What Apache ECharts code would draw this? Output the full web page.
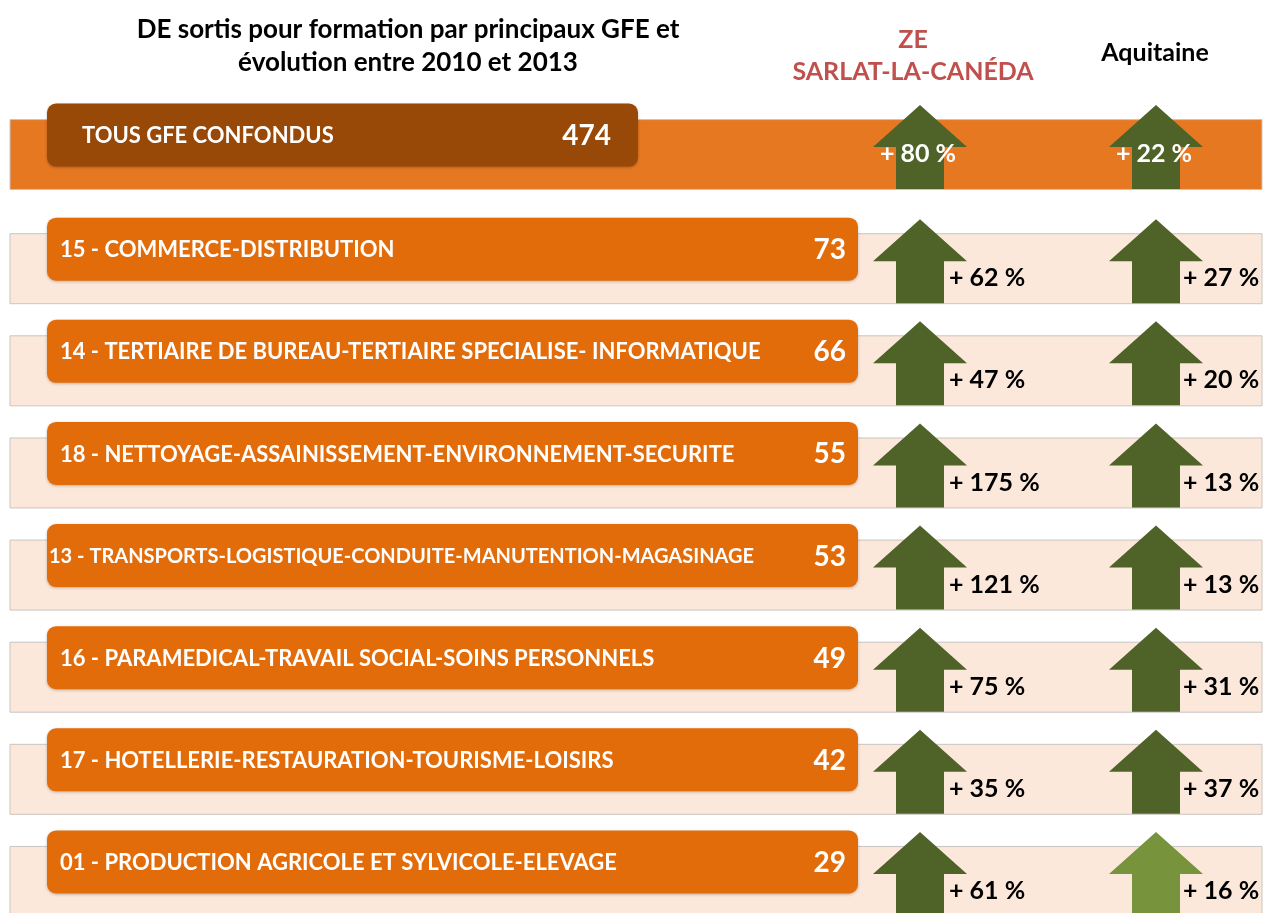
<!DOCTYPE html>
<html><head><meta charset="utf-8">
<script src="https://cdn.jsdelivr.net/npm/echarts@6/dist/echarts.min.js"></script>
<style>html,body{margin:0;padding:0;background:#fff}#c{width:1265px;height:913px}</style>
</head><body><div id="c"></div>
<script>
const categories = [
  'TOUS GFE CONFONDUS',
  '15 - COMMERCE-DISTRIBUTION',
  '14 - TERTIAIRE DE BUREAU-TERTIAIRE SPECIALISE- INFORMATIQUE',
  '18 - NETTOYAGE-ASSAINISSEMENT-ENVIRONNEMENT-SECURITE',
  '13 - TRANSPORTS-LOGISTIQUE-CONDUITE-MANUTENTION-MAGASINAGE',
  '16 - PARAMEDICAL-TRAVAIL SOCIAL-SOINS PERSONNELS',
  '17 - HOTELLERIE-RESTAURATION-TOURISME-LOISIRS',
  '01 - PRODUCTION AGRICOLE ET SYLVICOLE-ELEVAGE'
];
const counts = [474, 73, 66, 55, 53, 49, 42, 29];
const evolZE = [80, 62, 47, 175, 121, 75, 35, 61];
const evolAquitaine = [22, 27, 20, 13, 13, 31, 37, 16];
const columnTitles = ['ZE\nSARLAT-LA-CANÉDA', 'Aquitaine'];
const chartTitle = 'DE sortis pour formation par principaux GFE et\névolution entre 2010 et 2013';

const FONT = 'Lato';
const chart = echarts.init(document.getElementById('c'));

const measureCtx = document.createElement('canvas').getContext('2d');
function fitSize(text, base, maxW) {
  let s = base;
  while (s > 12) {
    measureCtx.font = 'bold ' + s + 'px ' + FONT;
    if (measureCtx.measureText(text).width <= maxW) break;
    s -= 0.5;
  }
  return s;
}

function rowY(api, idx) {
  const y = api.coord([0, idx])[1];
  return idx === 0 ? y - 12 : y;
}

function rowsRender(params, api) {
  const idx = api.value(1);
  const cy = rowY(api, idx);
  const isTotal = idx === 0;
  const children = [];
  children.push({
    type: 'rect',
    shape: { x: 10, y: cy - 15.5, width: 1252, height: 70 },
    style: { fill: isTotal ? '#e67822' : '#fbe8db', stroke: '#c9c4c0', lineWidth: 1 }
  });
  const boxW = isTotal ? 591 : 811;
  children.push({
    type: 'rect',
    shape: { x: 47, y: cy - 31.5, width: boxW, height: 63, r: 9 },
    style: { fill: isTotal ? '#984807' : '#e36c0a', shadowBlur: 3, shadowColor: 'rgba(0,0,0,0.25)', shadowOffsetY: 1 }
  });
  const label = categories[idx];
  const fs = fitSize(label, 22, 712);
  const shrunk = fs < 22;
  children.push({
    type: 'text',
    style: {
      text: label, x: isTotal ? 82 : (shrunk ? 49 : 60), y: cy + 1,
      fill: '#ffffff', fontFamily: FONT, fontWeight: 'bold', fontSize: fs,
      align: 'left', verticalAlign: 'middle'
    }
  });
  children.push({
    type: 'text',
    style: {
      text: String(api.value(2)), x: isTotal ? 611 : 846, y: cy + 1,
      fill: '#ffffff', fontFamily: FONT, fontWeight: 'bold', fontSize: 28,
      align: 'right', verticalAlign: 'middle'
    }
  });
  return { type: 'group', children };
}

function arrowRenderFactory(cx, labelX, lightIdx) {
  return function (params, api) {
    const idx = api.value(1);
    const cy = rowY(api, idx);
    const v = api.value(2);
    const isTotal = idx === 0;
    const tip = cy - 30, base = cy + 12, bottom = cy + 54;
    const hw = 47, sw = 24;
    const color = (idx === lightIdx) ? '#77933c' : '#4f6228';
    const children = [{
      type: 'polygon',
      shape: { points: [[cx, tip], [cx + hw, base], [cx + sw, base], [cx + sw, bottom], [cx - sw, bottom], [cx - sw, base], [cx - hw, base]] },
      style: { fill: color }
    }];
    children.push({
      type: 'text',
      style: isTotal ? {
        text: '+ ' + v + ' %', x: cx - 2, y: cy + 19,
        fill: '#ffffff', fontFamily: FONT, fontWeight: 'bold', fontSize: 25,
        align: 'center', verticalAlign: 'middle'
      } : {
        text: '+ ' + v + ' %', x: labelX, y: cy + 29,
        fill: '#000000', fontFamily: FONT, fontWeight: 'bold', fontSize: 25,
        align: 'left', verticalAlign: 'middle'
      }
    });
    return { type: 'group', children };
  };
}

const option = {
  animation: false,
  backgroundColor: '#ffffff',
  title: [
    { text: chartTitle, left: 403, top: 8, textAlign: 'center',
      textStyle: { fontFamily: FONT, fontWeight: 'bold', fontSize: 26, lineHeight: 33, color: '#000' } },
    { text: columnTitles[0], left: 908, top: 19, textAlign: 'center',
      textStyle: { fontFamily: FONT, fontWeight: 'bold', fontSize: 25, lineHeight: 32, color: '#c0504d' } },
    { text: columnTitles[1], left: 1150, top: 35, textAlign: 'center',
      textStyle: { fontFamily: FONT, fontWeight: 'bold', fontSize: 25, color: '#000' } }
  ],
  grid: { left: 0, right: 0, top: 96, height: 822 },
  xAxis: { type: 'value', min: 0, max: 1265, show: false },
  yAxis: { type: 'category', data: categories, inverse: true, show: false },
  series: [
    { type: 'custom', renderItem: rowsRender, clip: false,
      data: counts.map((c, i) => [0, i, c]) },
    { type: 'custom', renderItem: arrowRenderFactory(920, 949, -1), clip: false,
      data: evolZE.map((c, i) => [0, i, c]) },
    { type: 'custom', renderItem: arrowRenderFactory(1156, 1183, 7), clip: false,
      data: evolAquitaine.map((c, i) => [0, i, c]) }
  ]
};
chart.setOption(option);
</script></body></html>
